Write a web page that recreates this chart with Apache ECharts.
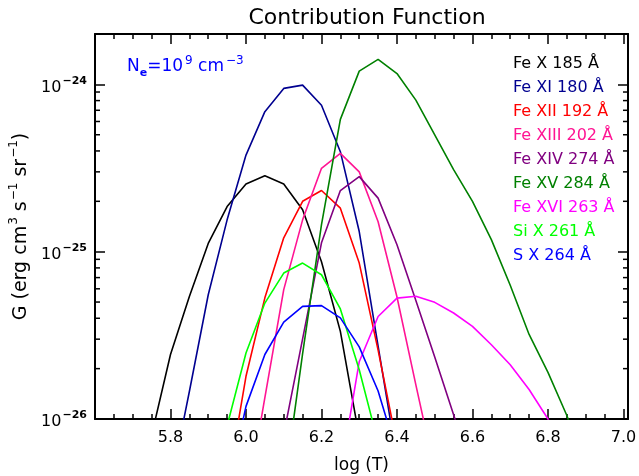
<!DOCTYPE html>
<html>
<head>
<meta charset="utf-8">
<script src="https://cdn.jsdelivr.net/npm/echarts@6/dist/echarts.min.js"></script>
<style>html,body{margin:0;padding:0;background:#fff;}#c{width:639px;height:476px;}#err{position:absolute;left:0;top:300px;font:10px monospace;color:#c00;white-space:pre-wrap;width:630px;}</style>
</head>
<body>
<div id="c"></div>
<div id="err"></div>
<script>
// log(T) sample grid
const temps = [5.75, 5.80, 5.85, 5.90, 5.95, 6.00, 6.05, 6.10, 6.15, 6.20, 6.25, 6.30,
               6.35, 6.40, 6.45, 6.50, 6.55, 6.60, 6.65, 6.70, 6.75, 6.80, 6.85, 6.90];
// contribution functions (erg cm^3 s^-1 sr^-1); null = not plotted
const feX   = [0.8e-26, 2.43e-26, 5.4e-26, 1.12e-25, 1.86e-25, 2.54e-25, 2.84e-25, 2.54e-25, 1.78e-25, 8.7e-26, 3.34e-26, 0.78e-26,
               null, null, null, null, null, null, null, null, null, null, null, null];
const feXI  = [null, 0.4e-26, 1.46e-26, 5.53e-26, 1.55e-25, 3.78e-25, 6.87e-25, 9.46e-25, 9.9e-25, 7.5e-25, 3.96e-25, 1.32e-25,
               2.73e-26, 0.57e-26, null, null, null, null, null, null, null, null, null, null];
const feXII = [null, null, null, null, 0.39e-26, 1.8e-26, 5.3e-26, 1.21e-25, 2.0e-25, 2.32e-25, 1.82e-25, 8.55e-26,
               2.58e-26, 0.7e-26, null, null, null, null, null, null, null, null, null, null];
const feXIII= [null, null, null, null, null, 0.3e-26, 1.34e-26, 5.93e-26, 1.55e-25, 3.15e-25, 3.87e-25, 3.0e-25,
               1.51e-25, 5.36e-26, 1.6e-26, 0.49e-26, null, null, null, null, null, null, null, null];
const feXIV = [null, null, null, null, null, null, null, 0.81e-26, 3.01e-26, 1.13e-25, 2.32e-25, 2.81e-25,
               2.09e-25, 1.1e-25, 5.1e-26, 2.35e-26, 1.06e-26, 0.47e-26, null, null, null, null, null, null];
const feXV  = [null, null, null, null, null, null, null, 0.37e-26, 2.46e-26, 1.45e-25, 6.18e-25, 1.2e-24,
               1.41e-24, 1.16e-24, 8.05e-25, 4.99e-25, 3.09e-25, 2.0e-25, 1.18e-25, 6.3e-26, 3.2e-26, 1.9e-26, 1.05e-26, 0.5e-26];
const feXVI = [null, null, null, null, null, null, null, null, null, null, 0.47e-26, 2.2e-26,
               4.1e-26, 5.28e-26, 5.41e-26, 4.98e-26, 4.3e-26, 3.58e-26, 2.78e-26, 2.11e-26, 1.5e-26, 1.0e-26, 0.55e-26, null];
const siX   = [null, null, null, null, 0.91e-26, 2.48e-26, 4.93e-26, 7.45e-26, 8.55e-26, 7.28e-26, 4.55e-26, 1.97e-26,
               0.72e-26, null, null, null, null, null, null, null, null, null, null, null];
const sX    = [null, null, null, null, 0.36e-26, 1.19e-26, 2.43e-26, 3.79e-26, 4.71e-26, 4.76e-26, 4.02e-26, 2.7e-26,
               1.47e-26, 0.62e-26, null, null, null, null, null, null, null, null, null, null];

const lineNames = ['Fe X 185 Å', 'Fe XI 180 Å', 'Fe XII 192 Å', 'Fe XIII 202 Å', 'Fe XIV 274 Å',
                   'Fe XV 284 Å', 'Fe XVI 263 Å', 'Si X 261 Å', 'S X 264 Å'];
const lineColors = ['#000000', '#000090', '#FF0000', '#FF1493', '#800080', '#008000', '#FF00FF', '#00FF00', '#0000FF'];
const seriesValues = [feX, feXI, feXII, feXIII, feXIV, feXV, feXVI, siX, sX];

const xTickLabels = ['5.8', '6.0', '6.2', '6.4', '6.6', '6.8', '7.0'];
const yDecades = [-26, -25, -24];
// the log axis works in units of 1e-26 to avoid floating rounding of tiny tick values
const G_UNIT = 1e-26;
const G_UNIT_EXP = -26;
const yMinorValues = [];
yDecades.forEach(d => { for (let k = 2; k <= 9; k++) { const v = k * Math.pow(10, d - G_UNIT_EXP); if (v < 200) yMinorValues.push(v); } });

const X_MIN = 5.6, X_MAX = 7.012, Y_MIN = 1e-26 / G_UNIT, Y_MAX = 2e-24 / G_UNIT;
const FONT = 'DejaVu Sans';

function pairs(vals) {
  const out = [];
  vals.forEach((v, i) => { if (v !== null) out.push([temps[i], v / G_UNIT]); });
  return out;
}

function axisX(extra) {
  return Object.assign({
    type: 'value', min: X_MIN, max: X_MAX, interval: 0.2, gridIndex: 0,
    axisLine: {show: true, onZero: false, lineStyle: {color: '#000', width: 2}},
    axisTick: {show: true, inside: true, length: 10, lineStyle: {color: '#000', width: 1.5}},
    minorTick: {show: true, splitNumber: 4, length: 5, lineStyle: {color: '#000', width: 1.5}},
    splitLine: {show: false}, minorSplitLine: {show: false}
  }, extra);
}
function axisY(extra) {
  return Object.assign({
    type: 'log', logBase: 10, min: Y_MIN, max: Y_MAX, gridIndex: 0,
    axisLine: {show: true, onZero: false, lineStyle: {color: '#000', width: 2}},
    axisTick: {show: true, inside: true, length: 10, lineStyle: {color: '#000', width: 1.5}},
    splitLine: {show: false}
  }, extra);
}

const series = seriesValues.map((vals, i) => ({
  name: lineNames[i], type: 'line', data: pairs(vals), showSymbol: false, symbol: 'none',
  xAxisIndex: 0, yAxisIndex: 0,
  clip: true, lineStyle: {color: lineColors[i], width: 1.6}, itemStyle: {color: lineColors[i]},
  z: 2 + i
}));

series.push({
  type: 'custom', silent: true, z: 20, xAxisIndex: 0, yAxisIndex: 0,
  data: yMinorValues.map(v => [X_MIN, v]),
  renderItem: function (params, api) {
    const y = api.coord([X_MIN, api.value(1)])[1];
    const cs = params.coordSys;
    const st = {stroke: '#000', lineWidth: 1.5};
    return {type: 'group', children: [
      {type: 'line', shape: {x1: cs.x, y1: y, x2: cs.x + 5, y2: y}, style: st},
      {type: 'line', shape: {x1: cs.x + cs.width, y1: y, x2: cs.x + cs.width - 5, y2: y}, style: st}
    ]};
  }
});

const option = {
  backgroundColor: '#fff',
  animation: false,
  title: {
    text: 'Contribution Function', left: 362, top: 2, textAlign: 'center',
    textStyle: {fontFamily: FONT, fontSize: 22, fontWeight: 'normal', color: '#000'}
  },
  grid: {left: 95, right: 11, top: 34, bottom: 57, containLabel: false, outerBoundsMode: 'none'},
  legend: {
    orient: 'vertical', left: 503, top: 50, icon: 'none', itemWidth: 0, itemHeight: 14, itemGap: 6,
    selectedMode: false,
    textStyle: {fontFamily: FONT, fontSize: 16, lineHeight: 18},
    data: lineNames.map((n, i) => ({name: n, textStyle: {color: lineColors[i]}}))
  },
  xAxis: [
    axisX({
      position: 'bottom',
      name: 'log (T)', nameLocation: 'middle', nameGap: 38,
      nameTextStyle: {fontFamily: FONT, fontSize: 17, color: '#000'},
      axisLabel: {
        show: true, margin: 11, color: '#000', fontFamily: FONT, fontSize: 16,
        formatter: function (v) {
          const s = Number(v).toFixed(1);
          return (Math.abs(v * 5 - Math.round(v * 5)) < 1e-6 && xTickLabels.indexOf(s) >= 0) ? s : '';
        }
      }
    }),
    axisX({position: 'top', axisLabel: {show: false}})
  ],
  yAxis: [
    axisY({
      position: 'left',
      name: '{a|G (erg cm}{s|3}{a| s}{s|−1}{a| sr}{s|−1}{a|)}', nameLocation: 'middle', nameGap: 63, nameRotate: 90,
      nameTextStyle: {
        fontFamily: FONT, color: '#000',
        rich: {
          a: {fontFamily: FONT, fontSize: 19, color: '#000', lineHeight: 26, verticalAlign: 'bottom'},
          s: {fontFamily: FONT, fontSize: 12, color: '#000', lineHeight: 26, verticalAlign: 'bottom', padding: [0, 0, 10, 1]}
        }
      },
      axisLabel: {
        show: true, margin: 8, color: '#000',
        formatter: function (v) {
          const l = Math.log10(v);
          const e = Math.round(l);
          if (!isFinite(l) || Math.abs(l - e) > 1e-6) return '';
          const ex = e + G_UNIT_EXP;
          return '{b|10}{s|' + (ex < 0 ? '−' : '') + Math.abs(ex) + '}';
        },
        rich: {
          b: {fontFamily: FONT, fontSize: 16, color: '#000', lineHeight: 22, verticalAlign: 'bottom'},
          s: {fontFamily: FONT, fontSize: 11, fontWeight: 'bold', color: '#000', lineHeight: 22, verticalAlign: 'bottom', padding: [0, 0, 9, 1]}
        }
      }
    }),
    axisY({position: 'right', axisLabel: {show: false}})
  ],
  graphic: [{
    type: 'text', left: 127, top: 55, silent: true,
    style: {
      text: '{n|N}{sub|e}{n|=10}{sup|9}{n| cm}{sup|−3}',
      rich: {
        n: {fontFamily: FONT, fontSize: 17, fill: '#0000FF', lineHeight: 26, verticalAlign: 'middle'},
        sub: {fontFamily: FONT, fontSize: 11, fontWeight: 'bold', fill: '#0000FF', lineHeight: 26, verticalAlign: 'middle', padding: [12, 0, 0, 0]},
        sup: {fontFamily: FONT, fontSize: 12, fill: '#0000FF', lineHeight: 26, verticalAlign: 'middle', padding: [0, 0, 12, 2]}
      }
    }
  }],
  series: series
};

try {
  const chart = echarts.init(document.getElementById('c'), null, {renderer: 'canvas'});
  chart.setOption(option);
} catch (e) {
  document.getElementById('err').textContent = String(e && e.stack || e);
}
window.onerror = function (m, s, l, c, e) { document.getElementById('err').textContent += '\n' + m + ' ' + (e && e.stack); };
</script>
</body>
</html>
